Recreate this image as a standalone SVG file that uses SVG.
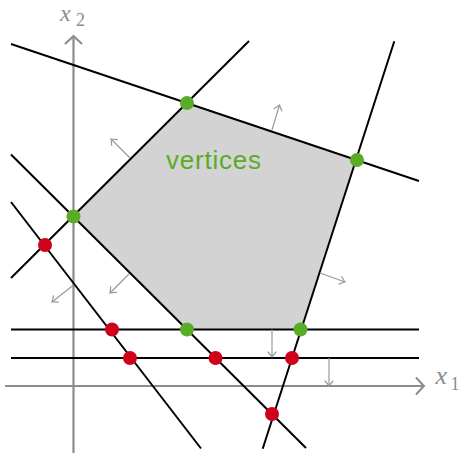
<svg xmlns="http://www.w3.org/2000/svg" width="463" height="454" viewBox="0 0 463 454">
  <style>
    .ln { stroke: #000; stroke-width: 2; fill: none; stroke-linecap: butt; }
    .ax { stroke: #8c8c8c; stroke-width: 2.2; fill: none; }
    .nv { stroke: #9a9a9a; stroke-width: 1.2; fill: none; }
    .g { fill: #5aab26; }
    .r { fill: #d0021b; }
    .lab { font-family: "Liberation Serif", "Times New Roman", serif; fill: #8c8c8c; }
  </style>
  <defs>
    <marker id="axh" markerUnits="userSpaceOnUse" markerWidth="20" markerHeight="20" viewBox="-10 -10 20 20" refX="0" refY="0" orient="auto" overflow="visible">
      <path d="M -7.5 -8 Q -2 -2 0 0 Q -2 2 -7.5 8" fill="none" stroke="#8c8c8c" stroke-width="2" stroke-linecap="round"/>
    </marker>
    <marker id="nh" markerUnits="userSpaceOnUse" markerWidth="14" markerHeight="14" viewBox="-7 -7 14 14" refX="0" refY="0" orient="auto" overflow="visible">
      <path d="M -5 -4 Q -1.5 -1 0 0 Q -1.5 1 -5 4" fill="none" stroke="#9a9a9a" stroke-width="1.2" stroke-linecap="round"/>
    </marker>
  </defs>

  <g id="feasible-region">
    <polygon points="73.5,216.5 187,103 357,160 300.5,329.5 187,329.5" fill="#d3d3d3"/>
  </g>

  <g id="axes">
    <line class="ax" x1="5" y1="386" x2="424" y2="386" marker-end="url(#axh)"/>
    <line class="ax" x1="73.5" y1="453" x2="73.5" y2="36" marker-end="url(#axh)"/>
    <text class="lab" font-style="italic" font-size="26" x="435.5" y="383.5">x</text>
    <text class="lab" font-size="18" x="450.5" y="389.5">1</text>
    <text class="lab" font-style="italic" font-size="24" x="60" y="21">x</text>
    <text class="lab" font-size="18" x="76" y="25.5">2</text>
  </g>

  <g id="connectors">
    <line class="ln" x1="11" y1="44" x2="419" y2="181"/>
    <line class="ln" x1="11" y1="278" x2="249" y2="41"/>
    <line class="ln" x1="11" y1="154.5" x2="306" y2="448"/>
    <line class="ln" x1="11" y1="202" x2="201" y2="448.5"/>
    <line class="ln" x1="394.3" y1="41.3" x2="262.7" y2="448.7"/>
    <line class="ln" x1="11" y1="329.5" x2="419" y2="329.5"/>
    <line class="ln" x1="11" y1="358" x2="419" y2="358"/>
  </g>

  <g id="normals">
    <line class="nv" x1="130" y1="158" x2="111" y2="139" marker-end="url(#nh)"/>
    <line class="nv" x1="272" y1="130" x2="279.5" y2="105" marker-end="url(#nh)"/>
    <line class="nv" x1="320" y1="273" x2="345" y2="282" marker-end="url(#nh)"/>
    <line class="nv" x1="129" y1="274" x2="110" y2="293" marker-end="url(#nh)"/>
    <line class="nv" x1="73.5" y1="285" x2="52" y2="302" marker-end="url(#nh)"/>
    <line class="nv" x1="272" y1="329.5" x2="272" y2="357" marker-end="url(#nh)"/>
    <line class="nv" x1="329" y1="358" x2="329" y2="386" marker-end="url(#nh)"/>
  </g>

  <g id="vertices">
    <circle class="g" cx="73.5" cy="216.5" r="7"/>
    <circle class="g" cx="187" cy="103" r="7"/>
    <circle class="g" cx="357" cy="160" r="7"/>
    <circle class="g" cx="300.5" cy="329.5" r="7"/>
    <circle class="g" cx="187" cy="329.5" r="7"/>
  </g>

  <g id="infeasible-points">
    <circle class="r" cx="45" cy="245" r="7"/>
    <circle class="r" cx="112" cy="329.5" r="7"/>
    <circle class="r" cx="130" cy="358" r="7"/>
    <circle class="r" cx="215.5" cy="358" r="7"/>
    <circle class="r" cx="292" cy="358" r="7"/>
    <circle class="r" cx="272" cy="414" r="7"/>
  </g>

  <g id="label-vertices">
    <text x="166" y="168.5" font-family="'Liberation Sans', Arial, sans-serif" font-size="26" fill="#5aab26" textLength="95" lengthAdjust="spacing">vertices</text>
  </g>
</svg>
